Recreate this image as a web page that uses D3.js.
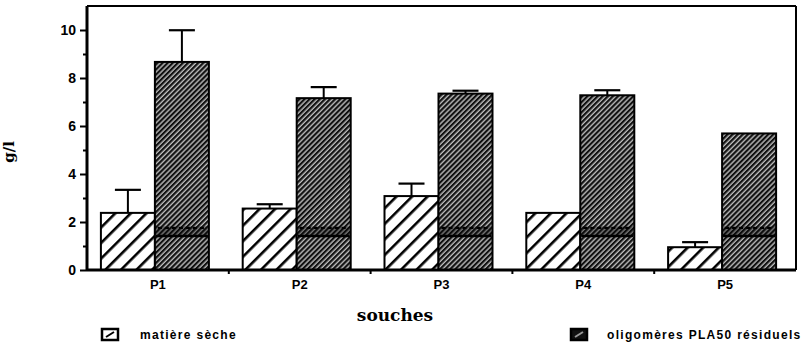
<!DOCTYPE html>
<html>
<head>
<meta charset="utf-8">
<script src="https://cdn.jsdelivr.net/npm/d3@7"></script>
<style>
  body { margin: 0; background: #fff; }
  svg { display: block; }
</style>
</head>
<body>
<svg id="chart"></svg>
<script>
const souches = ["P1", "P2", "P3", "P4", "P5"]
const matiereSeche = [2.38, 2.56, 3.08, 2.38, 0.95]
const matiereSecheErr = [0.96, 0.18, 0.52, 0, 0.21]
const oligomeres = [8.67, 7.16, 7.35, 7.28, 5.69]
const oligomeresErr = [1.32, 0.46, 0.12, 0.21, 0]
const yTicks = [0, 2, 4, 6, 8, 10]
const seriesNames = ["matière sèche", "oligomères PLA50 résiduels"]

const width = 810, height = 344
const margin = {top: 6, right: 14, bottom: 74, left: 87}

const svg = d3.select("#chart")
  .attr("width", width)
  .attr("height", height)

const defs = svg.append("defs")

// wide hatch for matière sèche
const light = defs.append("pattern")
  .attr("id", "hatchLight")
  .attr("patternUnits", "userSpaceOnUse")
  .attr("width", 11).attr("height", 11)
  .attr("patternTransform", "rotate(45)")
light.append("rect").attr("width", 11).attr("height", 11).attr("fill", "#fff")
light.append("rect").attr("width", 2.6).attr("height", 11).attr("fill", "#000")

// fine hatch for oligomères
const dark = defs.append("pattern")
  .attr("id", "hatchDark")
  .attr("patternUnits", "userSpaceOnUse")
  .attr("width", 3.6).attr("height", 3.6)
  .attr("patternTransform", "rotate(45)")
dark.append("rect").attr("width", 3.6).attr("height", 3.6).attr("fill", "#bdbdbd")
dark.append("rect").attr("width", 2.2).attr("height", 3.6).attr("fill", "#111")

const x = d3.scaleBand()
  .domain(souches)
  .range([margin.left, width - margin.right])

const y = d3.scaleLinear()
  .domain([0, 11])
  .range([height - margin.bottom, margin.top])

const barW = 54
const pairOffset = (x.bandwidth() - 2 * barW) / 2 - 3

const data = souches.map((s, i) => ({
  s,
  vals: [
    {k: 0, v: matiereSeche[i], e: matiereSecheErr[i]},
    {k: 1, v: oligomeres[i], e: oligomeresErr[i]}
  ]
}))

const barX = (s, k) => x(s) + pairOffset + k * barW

// error bars (drawn behind bars)
const errs = svg.append("g")
data.forEach(d => {
  d.vals.filter(b => b.e > 0).forEach(b => {
    const cx = barX(d.s, b.k) + barW / 2
    errs.append("line")
      .attr("x1", cx).attr("x2", cx)
      .attr("y1", y(b.v)).attr("y2", y(b.v + b.e))
      .attr("stroke", "#000").attr("stroke-width", 2)
    errs.append("line")
      .attr("x1", cx - 13).attr("x2", cx + 13)
      .attr("y1", y(b.v + b.e)).attr("y2", y(b.v + b.e))
      .attr("stroke", "#000").attr("stroke-width", 2.2)
  })
})

// bars
const bars = svg.append("g")
data.forEach(d => {
  bars.selectAll(null)
    .data(d.vals)
    .enter().append("rect")
    .attr("x", b => barX(d.s, b.k))
    .attr("y", b => y(b.v))
    .attr("width", barW)
    .attr("height", b => y(0) - y(b.v))
    .attr("fill", b => b.k === 0 ? "url(#hatchLight)" : "url(#hatchDark)")
    .attr("stroke", "#000")
    .attr("stroke-width", 2)

  // darker scan band inside the oligomères bars
  const bx = barX(d.s, 1)
  bars.append("rect")
    .attr("x", bx + 1).attr("width", barW - 2)
    .attr("y", y(1.82)).attr("height", y(1.38) - y(1.82))
    .attr("fill", "#000").attr("opacity", 0.35)
  bars.append("line")
    .attr("x1", bx + 3).attr("x2", bx + barW - 3)
    .attr("y1", y(1.75)).attr("y2", y(1.75))
    .attr("stroke", "#000").attr("stroke-width", 2)
    .attr("stroke-dasharray", "4,3")
  bars.append("line")
    .attr("x1", bx + 1).attr("x2", bx + barW - 1)
    .attr("y1", y(1.42)).attr("y2", y(1.42))
    .attr("stroke", "#000").attr("stroke-width", 2.5)
})

// frame
const x0 = margin.left, x1 = width - margin.right
const yTop = margin.top, yBot = height - margin.bottom
svg.append("line").attr("x1", x0).attr("x2", x1).attr("y1", yTop).attr("y2", yTop)
  .attr("stroke", "#000").attr("stroke-width", 2)
svg.append("line").attr("x1", x1).attr("x2", x1).attr("y1", yTop).attr("y2", yBot)
  .attr("stroke", "#000").attr("stroke-width", 2)

// y axis
const yAxis = svg.append("g")
  .attr("transform", `translate(${x0},0)`)
  .call(d3.axisLeft(y).tickValues(yTicks).tickSize(7).tickPadding(4).tickFormat(d3.format("d")))
yAxis.select(".domain").attr("stroke-width", 3).attr("d", `M0,${yTop}V${yBot}`)
yAxis.selectAll(".tick line").attr("stroke-width", 2)
yAxis.selectAll(".tick text")
  .attr("font-family", "Liberation Sans, Arial, sans-serif")
  .attr("font-weight", "bold")
  .attr("font-size", 14)
  .attr("fill", "#000")

svg.append("g")
  .attr("transform", `translate(${x0},0)`)
  .call(d3.axisLeft(y).tickValues([1, 3, 5, 7, 9]).tickSize(4).tickFormat(""))
  .call(g => g.select(".domain").remove())
  .selectAll(".tick line").attr("stroke-width", 2)

// x axis
const xAxis = svg.append("g")
  .attr("transform", `translate(0,${yBot})`)
  .call(d3.axisBottom(x).tickSize(0).tickPadding(10))
xAxis.select(".domain").attr("stroke-width", 3).attr("d", `M${x0},0H${x1}`)
xAxis.selectAll(".tick text")
  .attr("font-family", "Liberation Sans, Arial, sans-serif")
  .attr("font-weight", "bold")
  .attr("font-size", 13)
  .attr("fill", "#000")

// small separators between categories
svg.append("g")
  .selectAll("line")
  .data(souches.slice(1))
  .enter().append("line")
  .attr("x1", d => x(d)).attr("x2", d => x(d))
  .attr("y1", yBot).attr("y2", yBot + 4)
  .attr("stroke", "#000").attr("stroke-width", 2)

// axis titles
svg.append("text")
  .attr("transform", `translate(14,152) rotate(-90)`)
  .attr("text-anchor", "middle")
  .attr("font-family", "DejaVu Serif, serif")
  .attr("font-weight", "bold")
  .attr("font-size", 15)
  .text("g/l")

svg.append("text")
  .attr("x", 395)
  .attr("y", 321)
  .attr("text-anchor", "middle")
  .attr("font-family", "DejaVu Serif, serif")
  .attr("font-weight", "bold")
  .attr("font-size", 17)
  .text("souches")

// legend
const legendPos = [{x: 102, tx: 140}, {x: 571, tx: 607}]
const legend = svg.append("g")
  .selectAll("g")
  .data(seriesNames)
  .enter().append("g")
legend.append("rect")
  .attr("x", (d, i) => legendPos[i].x)
  .attr("y", 329)
  .attr("width", 16).attr("height", 11)
  .attr("fill", (d, i) => i === 0 ? "#fff" : "#111")
  .attr("stroke", "#000").attr("stroke-width", 2.5)
legend.append("line")
  .attr("x1", (d, i) => legendPos[i].x + 4).attr("x2", (d, i) => legendPos[i].x + 12)
  .attr("y1", 337).attr("y2", 332)
  .attr("stroke", (d, i) => i === 0 ? "#000" : "#999").attr("stroke-width", 2)
legend.append("text")
  .attr("x", (d, i) => legendPos[i].tx)
  .attr("y", 339)
  .attr("font-family", "Liberation Sans, Arial, sans-serif")
  .attr("font-weight", "bold")
  .attr("font-size", 12)
  .attr("letter-spacing", 1.3)
  .text(d => d)
</script>
</body>
</html>
